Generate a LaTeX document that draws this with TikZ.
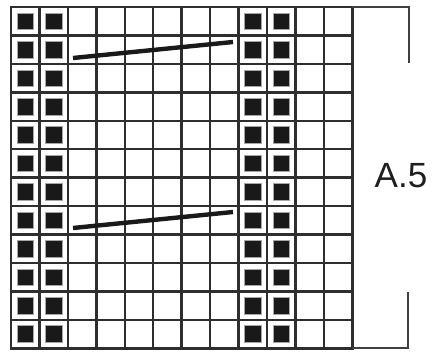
\documentclass[tikz,border=0pt]{standalone}
\usepackage{fontspec}
\setmainfont{Liberation Sans}
\begin{document}
\begin{tikzpicture}[x=1pt,y=-1pt,
  gridline/.style={line width=2.5pt, draw=black!82, line cap=rect},
  bracketline/.style={line width=2.2pt, draw=black!75},
  cablebar/.style={line width=4.4pt, draw=black!90},
  purlbox/.style={fill=black!90, draw=black!35, line width=0.6pt},
  labeltext/.style={font=\fontsize{35}{35}\selectfont, text=black!88, inner sep=0pt}]
\useasboundingbox (0,0) rectangle (439,354);
\def\cs{28.44}
% black squares
\foreach \r in {0,...,11}{
  \foreach \c in {0,1,8,9}{
    \path[purlbox] ({11+\cs*(\c+0.5)-8.3},{7+\cs*(\r+0.5)-8.3}) rectangle ++(16.6,16.6);
  }
}
% grid
\foreach \i in {0,...,12}{
  \draw[gridline] ({11+\i*\cs},7) -- ({11+\i*\cs},348.3);
  \draw[gridline] (11,{7+\i*\cs}) -- (352.3,{7+\i*\cs});
}
% bracket
\coordinate (btl) at (352.3,7);
\coordinate (btr) at (409,7);
\coordinate (bte) at (409,63);
\coordinate (bbl) at (352.3,348.3);
\coordinate (bbr) at (408,348.3);
\coordinate (bbe) at (408,292);
\draw[bracketline] (btl) -- (btr) -- (bte);
\draw[bracketline] (bbl) -- (bbr) -- (bbe);
% cables
\coordinate (c1a) at (73,58);
\coordinate (c1b) at (233,42);
\coordinate (c2a) at (73,228);
\coordinate (c2b) at (233,212);
\draw[cablebar] (c1a) -- (c1b);
\draw[cablebar] (c2a) -- (c2b);
% label
\node[labeltext] (lbl) at (401,176) {A.5};
\end{tikzpicture}
\end{document}
